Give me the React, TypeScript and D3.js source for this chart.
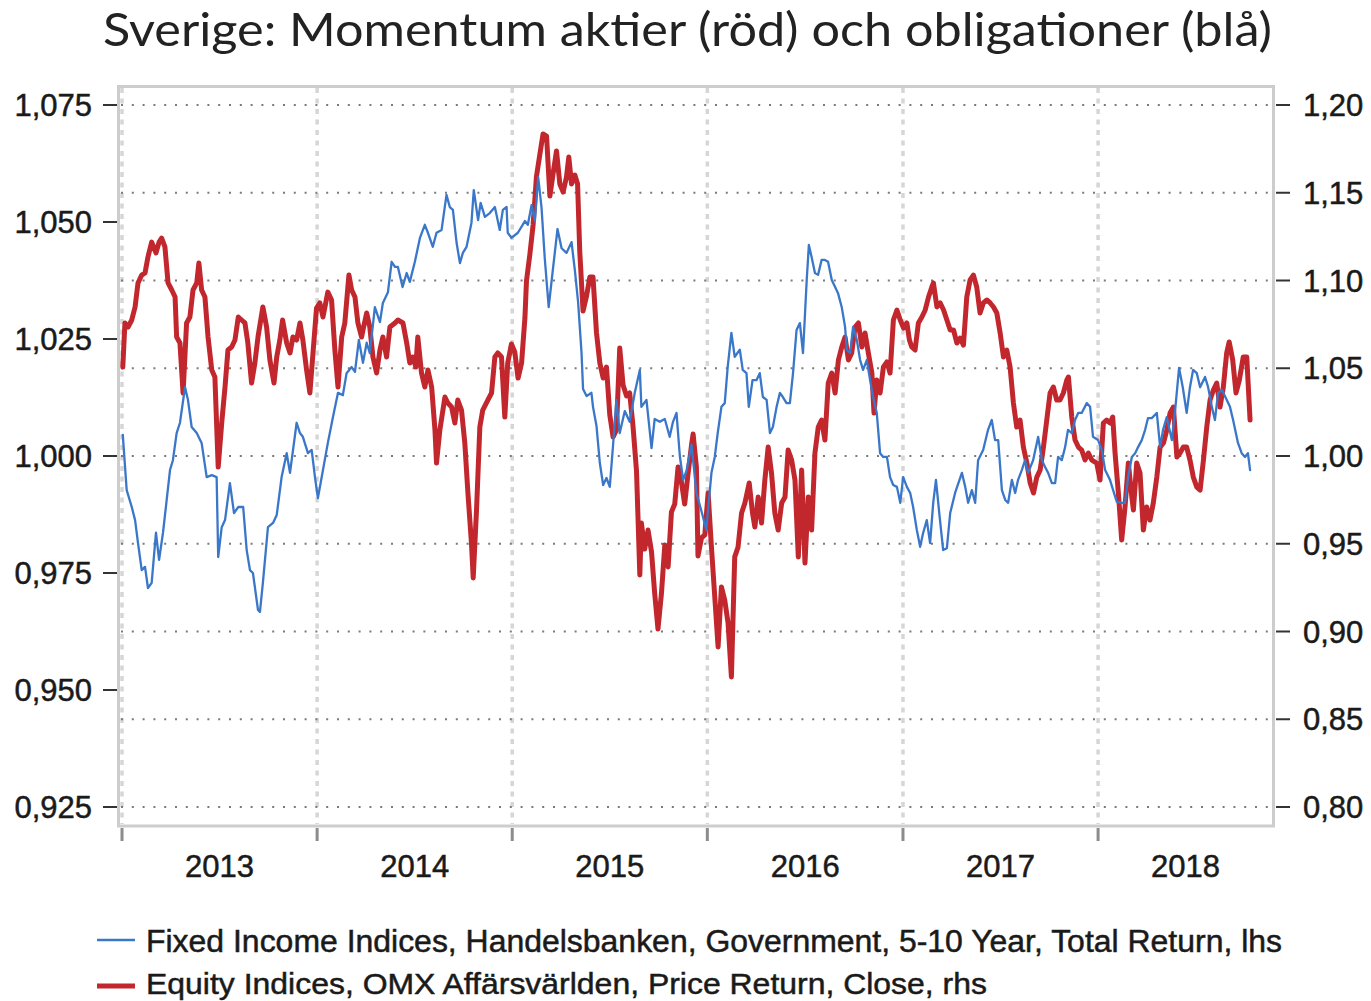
import React from "react";
import * as d3 from "d3";

const TITLE = "Sverige: Momentum aktier (röd) och obligationer (blå)";
const LEGEND_BLUE = "Fixed Income Indices, Handelsbanken, Government, 5-10 Year, Total Return, lhs";
const LEGEND_RED = "Equity Indices, OMX Affärsvärlden, Price Return, Close, rhs";

const leftTicks = [0.925, 0.95, 0.975, 1.0, 1.025, 1.05, 1.075];
const rightTicks = [0.8, 0.85, 0.9, 0.95, 1.0, 1.05, 1.1, 1.15, 1.2];
const yearTicks = [2013, 2014, 2015, 2016, 2017, 2018];

// [decimal year, value] — Handelsbanken government bond momentum (left axis)
const blueSeries: [number, number][] = [
[2013.004,1.0045],[2013.024,0.9927],[2013.050,0.9891],[2013.067,0.9863],[2013.082,0.9814],[2013.101,0.9756],[2013.118,0.9763],[2013.133,0.9718],[2013.152,0.9729],[2013.174,0.9836],[2013.190,0.9778],[2013.210,0.9836],[2013.229,0.9906],[2013.246,0.9970],[2013.261,0.9991],[2013.280,1.0049],[2013.297,1.0071],[2013.323,1.0147],[2013.338,1.0120],[2013.357,1.0062],[2013.383,1.0049],[2013.408,1.0028],[2013.434,0.9955],[2013.460,0.9959],[2013.485,0.9955],[2013.493,0.9784],[2013.511,0.9848],[2013.528,0.9863],[2013.553,0.9942],[2013.574,0.9878],[2013.596,0.9891],[2013.621,0.9891],[2013.639,0.9799],[2013.656,0.9756],[2013.671,0.9750],[2013.697,0.9671],[2013.707,0.9667],[2013.722,0.9729],[2013.748,0.9848],[2013.774,0.9857],[2013.793,0.9874],[2013.818,0.9955],[2013.844,1.0006],[2013.861,0.9964],[2013.895,1.0071],[2013.912,1.0049],[2013.927,1.0041],[2013.953,1.0006],[2013.972,1.0013],
[2013.989,0.9955],[2014.004,0.9910],[2014.030,0.9970],[2014.055,1.0028],[2014.081,1.0083],[2014.107,1.0135],[2014.132,1.0130],[2014.151,1.0177],[2014.177,1.0190],[2014.194,1.0180],[2014.214,1.0248],[2014.235,1.0199],[2014.254,1.0242],[2014.270,1.0220],[2014.296,1.0318],[2014.322,1.0286],[2014.337,1.0327],[2014.363,1.0350],[2014.382,1.0415],[2014.399,1.0404],[2014.414,1.0404],[2014.438,1.0361],[2014.459,1.0391],[2014.475,1.0372],[2014.501,1.0415],[2014.527,1.0466],[2014.552,1.0494],[2014.568,1.0477],[2014.593,1.0447],[2014.612,1.0477],[2014.638,1.0483],[2014.663,1.0558],[2014.680,1.0532],[2014.696,1.0526],[2014.715,1.0455],[2014.732,1.0412],[2014.747,1.0434],[2014.766,1.0447],[2014.791,1.0498],[2014.803,1.0568],[2014.825,1.0504],[2014.838,1.0541],[2014.860,1.0511],[2014.885,1.0519],[2014.911,1.0532],[2014.936,1.0483],[2014.952,1.0526],[2014.971,1.0532],
[2014.977,1.0477],[2014.996,1.0466],[2015.029,1.0477],[2015.065,1.0502],[2015.080,1.0494],[2015.099,1.0536],[2015.116,1.0502],[2015.133,1.0596],[2015.150,1.0532],[2015.167,1.0421],[2015.187,1.0318],[2015.208,1.0397],[2015.232,1.0485],[2015.253,1.0444],[2015.278,1.0434],[2015.304,1.0457],[2015.321,1.0397],[2015.338,1.0327],[2015.355,1.0222],[2015.363,1.0143],[2015.381,1.0128],[2015.406,1.0135],[2015.414,1.0105],[2015.432,1.0064],[2015.449,0.9985],[2015.466,0.9938],[2015.483,0.9953],[2015.500,0.9934],[2015.517,1.0024],[2015.534,1.0120],[2015.551,1.0049],[2015.577,1.0096],[2015.602,1.0073],[2015.628,1.0135],[2015.654,1.0184],[2015.662,1.0105],[2015.688,1.0120],[2015.714,1.0017],[2015.730,1.0079],[2015.756,1.0073],[2015.782,1.0079],[2015.807,1.0041],[2015.824,1.0073],[2015.842,1.0092],[2015.859,1.0000],[2015.876,0.9949],[2015.893,0.9968],[2015.919,1.0024],[2015.944,0.9921],[2015.970,0.9882],
[2015.995,0.9842],[2016.002,0.9878],[2016.021,0.9964],[2016.038,0.9998],[2016.053,1.0049],[2016.072,1.0105],[2016.089,1.0113],[2016.104,1.0190],[2016.123,1.0263],[2016.140,1.0212],[2016.166,1.0227],[2016.181,1.0184],[2016.200,1.0177],[2016.212,1.0105],[2016.231,1.0162],[2016.251,1.0162],[2016.268,1.0177],[2016.284,1.0126],[2016.303,1.0120],[2016.320,1.0049],[2016.335,1.0062],[2016.354,1.0105],[2016.371,1.0135],[2016.386,1.0126],[2016.405,1.0113],[2016.422,1.0113],[2016.438,1.0177],[2016.456,1.0269],[2016.473,1.0284],[2016.489,1.0220],[2016.508,1.0376],[2016.519,1.0451],[2016.533,1.0425],[2016.550,1.0391],[2016.566,1.0387],[2016.584,1.0419],[2016.601,1.0419],[2016.617,1.0415],[2016.636,1.0376],[2016.653,1.0361],[2016.668,1.0348],[2016.687,1.0318],[2016.704,1.0276],[2016.713,1.0227],[2016.730,1.0220],[2016.745,1.0276],[2016.764,1.0248],[2016.781,1.0205],[2016.796,1.0184],[2016.815,1.0205],[2016.832,1.0162],[2016.847,1.0126],[2016.866,1.0092],[2016.883,1.0006],[2016.899,0.9998],[2016.918,0.9998],[2016.934,0.9955],[2016.950,0.9938],[2016.969,0.9934],[2016.986,0.9900],[2017.001,0.9955],[2017.020,0.9934],
[2017.037,0.9921],[2017.052,0.9891],[2017.071,0.9842],[2017.088,0.9806],[2017.103,0.9835],[2017.122,0.9863],[2017.139,0.9814],[2017.155,0.9900],[2017.169,0.9949],[2017.186,0.9878],[2017.206,0.9799],[2017.225,0.9803],[2017.242,0.9878],[2017.267,0.9921],[2017.302,0.9964],[2017.319,0.9934],[2017.334,0.9900],[2017.353,0.9927],[2017.370,0.9900],[2017.385,0.9991],[2017.411,1.0013],[2017.436,1.0056],[2017.455,1.0077],[2017.472,1.0034],[2017.488,1.0034],[2017.507,0.9927],[2017.524,0.9906],[2017.539,0.9900],[2017.558,0.9949],[2017.575,0.9921],[2017.590,0.9949],[2017.609,0.9970],[2017.626,0.9991],[2017.641,0.9964],[2017.667,0.9991],[2017.693,1.0041],[2017.712,0.9991],[2017.729,0.9976],[2017.744,0.9964],[2017.763,0.9942],[2017.780,0.9942],[2017.795,0.9998],[2017.814,0.9991],[2017.831,1.0019],[2017.846,1.0056],[2017.865,1.0049],[2017.882,1.0077],[2017.898,1.0092],[2017.916,1.0092],[2017.942,1.0113],[2017.959,1.0105],
[2017.974,1.0041],[2018.000,1.0034],[2018.019,1.0013],[2018.036,0.9970],[2018.061,0.9949],[2018.077,0.9927],[2018.096,0.9902],[2018.121,0.9900],[2018.138,0.9900],[2018.154,0.9955],[2018.173,0.9998],[2018.190,1.0006],[2018.205,1.0019],[2018.224,1.0034],[2018.241,1.0056],[2018.256,1.0081],[2018.275,1.0081],[2018.301,1.0092],[2018.318,1.0019],[2018.333,1.0056],[2018.352,1.0083],[2018.378,1.0034],[2018.395,1.0098],[2018.415,1.0188],[2018.434,1.0147],[2018.454,1.0092],[2018.471,1.0147],[2018.487,1.0184],[2018.506,1.0177],[2018.523,1.0147],[2018.548,1.0169],[2018.564,1.0147],[2018.583,1.0105],[2018.599,1.0077],[2018.615,1.0135],[2018.635,1.0141],[2018.659,1.0120],[2018.676,1.0105],[2018.692,1.0077],[2018.717,1.0028],[2018.736,1.0006],[2018.753,0.9998],[2018.768,1.0006],[2018.779,0.9970]
];

// [decimal year, value] — OMX Affärsvärlden momentum (right axis)
const redSeries: [number, number][] = [
[2013.004,1.0507],[2013.015,1.0758],[2013.031,1.0735],[2013.050,1.0775],[2013.067,1.0849],[2013.082,1.0986],[2013.101,1.1031],[2013.118,1.1043],[2013.133,1.1134],[2013.152,1.1219],[2013.174,1.1157],[2013.190,1.1219],[2013.203,1.1242],[2013.220,1.1191],[2013.236,1.0986],[2013.255,1.0946],[2013.272,1.0906],[2013.280,1.0678],[2013.297,1.0644],[2013.313,1.0359],[2013.331,1.0758],[2013.348,1.0792],[2013.364,1.0946],[2013.383,1.0986],[2013.394,1.1100],[2013.408,1.0946],[2013.425,1.0906],[2013.441,1.0678],[2013.460,1.0490],[2013.476,1.0450],[2013.493,0.9937],[2013.511,1.0188],[2013.528,1.0393],[2013.543,1.0604],[2013.562,1.0621],[2013.579,1.0661],[2013.596,1.0792],[2013.613,1.0775],[2013.630,1.0758],[2013.645,1.0644],[2013.664,1.0416],[2013.681,1.0530],[2013.697,1.0678],[2013.722,1.0849],[2013.741,1.0735],[2013.758,1.0547],[2013.779,1.0416],[2013.793,1.0564],[2013.809,1.0661],[2013.823,1.0775],[2013.844,1.0644],[2013.861,1.0587],[2013.876,1.0678],[2013.895,1.0661],[2013.912,1.0758],[2013.927,1.0661],[2013.946,1.0490],[2013.963,1.0359],[2013.978,1.0575],[2013.997,1.0843],
[2014.014,1.0872],[2014.030,1.0792],[2014.055,1.0934],[2014.074,1.0889],[2014.091,1.0604],[2014.107,1.0393],[2014.126,1.0678],[2014.142,1.0758],[2014.163,1.1031],[2014.177,1.0946],[2014.194,1.0906],[2014.209,1.0758],[2014.228,1.0678],[2014.235,1.0718],[2014.254,1.0815],[2014.270,1.0735],[2014.286,1.0564],[2014.305,1.0473],[2014.322,1.0604],[2014.337,1.0678],[2014.356,1.0564],[2014.373,1.0735],[2014.399,1.0758],[2014.414,1.0775],[2014.440,1.0758],[2014.459,1.0644],[2014.475,1.0530],[2014.491,1.0564],[2014.506,1.0507],[2014.516,1.0678],[2014.535,1.0473],[2014.552,1.0393],[2014.568,1.0490],[2014.587,1.0393],[2014.604,1.0148],[2014.612,0.9960],[2014.629,1.0148],[2014.655,1.0336],[2014.670,1.0302],[2014.689,1.0279],[2014.706,1.0188],[2014.721,1.0319],[2014.740,1.0262],[2014.757,1.0074],[2014.773,0.9789],[2014.791,0.9504],[2014.800,0.9305],[2014.817,0.9692],[2014.834,1.0165],[2014.849,1.0262],[2014.875,1.0319],[2014.894,1.0359],[2014.911,1.0564],[2014.926,1.0587],[2014.945,1.0564],[2014.962,1.0222],[2014.977,1.0530],[2014.996,1.0638],
[2015.013,1.0593],[2015.030,1.0444],[2015.048,1.0530],[2015.065,1.0786],[2015.073,1.0997],[2015.090,1.1145],[2015.107,1.1316],[2015.124,1.1590],[2015.141,1.1715],[2015.158,1.1835],[2015.176,1.1823],[2015.193,1.1481],[2015.210,1.1613],[2015.227,1.1738],[2015.244,1.1550],[2015.261,1.1504],[2015.278,1.1590],[2015.290,1.1704],[2015.304,1.1550],[2015.321,1.1601],[2015.335,1.1550],[2015.346,1.1168],[2015.363,1.0826],[2015.381,1.0912],[2015.398,1.1020],[2015.414,1.1020],[2015.432,1.0701],[2015.449,1.0530],[2015.466,1.0444],[2015.483,1.0507],[2015.500,1.0234],[2015.517,1.0108],[2015.534,1.0148],[2015.551,1.0615],[2015.568,1.0405],[2015.586,1.0342],[2015.602,1.0359],[2015.619,1.0171],[2015.637,0.9915],[2015.654,0.9322],[2015.662,0.9618],[2015.679,0.9470],[2015.696,0.9578],[2015.714,0.9453],[2015.730,0.9219],[2015.747,0.9014],[2015.765,0.9219],[2015.782,0.9493],[2015.799,0.9368],[2015.816,0.9681],[2015.833,0.9726],[2015.850,0.9937],[2015.867,0.9852],[2015.884,0.9726],[2015.901,0.9897],[2015.919,1.0063],[2015.927,1.0125],[2015.944,0.9937],[2015.952,0.9430],[2015.970,0.9533],[2015.987,0.9550],
[2016.004,0.9789],[2016.021,0.9481],[2016.038,0.9197],[2016.055,0.8912],[2016.072,0.9254],[2016.089,0.9179],[2016.106,0.9048],[2016.123,0.8741],[2016.140,0.9425],[2016.157,0.9481],[2016.175,0.9675],[2016.192,0.9732],[2016.214,0.9846],[2016.231,0.9675],[2016.243,0.9595],[2016.260,0.9766],[2016.277,0.9618],[2016.294,0.9863],[2016.311,1.0051],[2016.328,0.9903],[2016.345,0.9675],[2016.362,0.9578],[2016.380,0.9732],[2016.397,0.9766],[2016.413,1.0034],[2016.431,0.9977],[2016.448,0.9863],[2016.465,0.9425],[2016.482,0.9920],[2016.499,0.9390],[2016.516,0.9766],[2016.533,0.9578],[2016.550,1.0017],[2016.567,1.0165],[2016.584,1.0205],[2016.601,1.0091],[2016.618,1.0416],[2016.636,1.0473],[2016.653,1.0359],[2016.670,1.0547],[2016.687,1.0621],[2016.704,1.0678],[2016.721,1.0547],[2016.738,1.0587],[2016.755,1.0735],[2016.772,1.0758],[2016.790,1.0621],[2016.806,1.0701],[2016.823,1.0587],[2016.841,1.0473],[2016.852,1.0245],[2016.866,1.0433],[2016.883,1.0359],[2016.900,1.0507],[2016.918,1.0536],[2016.934,1.0473],[2016.951,1.0775],[2016.969,1.0832],[2016.986,1.0775],
[2017.003,1.0729],[2017.020,1.0758],[2017.033,1.0661],[2017.045,1.0621],[2017.062,1.0604],[2017.079,1.0758],[2017.097,1.0792],[2017.114,1.0832],[2017.131,1.0906],[2017.148,1.0963],[2017.156,1.0986],[2017.174,1.0849],[2017.191,1.0872],[2017.208,1.0832],[2017.225,1.0775],[2017.242,1.0718],[2017.259,1.0718],[2017.276,1.0644],[2017.293,1.0672],[2017.310,1.0632],[2017.327,1.0906],[2017.344,1.1003],[2017.361,1.1031],[2017.378,1.0963],[2017.395,1.0815],[2017.412,1.0872],[2017.430,1.0889],[2017.447,1.0872],[2017.464,1.0849],[2017.481,1.0815],[2017.498,1.0701],[2017.515,1.0564],[2017.532,1.0604],[2017.549,1.0507],[2017.566,1.0302],[2017.583,1.0165],[2017.600,1.0205],[2017.617,1.0051],[2017.635,0.9960],[2017.652,0.9846],[2017.669,0.9789],[2017.686,0.9880],[2017.703,0.9920],[2017.720,1.0051],[2017.737,1.0205],[2017.754,1.0359],[2017.771,1.0393],[2017.788,1.0319],[2017.805,1.0319],[2017.822,1.0359],[2017.840,1.0433],[2017.848,1.0450],[2017.865,1.0222],[2017.882,1.0091],[2017.899,1.0051],[2017.916,1.0034],[2017.933,0.9977],[2017.950,1.0017],[2017.968,0.9977],[2017.993,0.9960],
[2018.010,0.9863],[2018.027,1.0188],[2018.044,1.0205],[2018.061,1.0188],[2018.075,1.0222],[2018.087,1.0017],[2018.104,0.9789],[2018.121,0.9521],[2018.138,0.9709],[2018.155,0.9960],[2018.173,0.9766],[2018.181,0.9692],[2018.198,0.9960],[2018.215,0.9903],[2018.232,0.9578],[2018.249,0.9709],[2018.266,0.9635],[2018.283,0.9732],[2018.301,0.9880],[2018.318,1.0051],[2018.335,1.0074],[2018.352,1.0148],[2018.369,1.0245],[2018.386,1.0279],[2018.404,0.9994],[2018.420,1.0017],[2018.437,1.0051],[2018.454,1.0051],[2018.471,0.9977],[2018.488,0.9880],[2018.506,0.9823],[2018.523,0.9806],[2018.540,0.9977],[2018.557,1.0165],[2018.574,1.0319],[2018.591,1.0376],[2018.608,1.0416],[2018.625,1.0279],[2018.642,1.0393],[2018.659,1.0587],[2018.672,1.0650],[2018.690,1.0547],[2018.707,1.0359],[2018.724,1.0433],[2018.744,1.0564],[2018.762,1.0564],[2018.779,1.0205]
];

const decToDate = (t: number) => {
  const y = Math.floor(t);
  const s = Date.UTC(y, 0, 1);
  const e = Date.UTC(y + 1, 0, 1);
  return new Date(s + (t - y) * (e - s));
};

const W = 1371;
const H = 1001;
const PL = 118;
const PR = 1273;
const PT = 105;
const PB = 807;

export default function App() {
  const x = d3.scaleUtc().domain([decToDate(2012.9795), decToDate(2018.8965)]).range([PL, PR]);
  const yL = d3.scaleLinear().domain([0.925, 1.075]).range([PB, PT]);
  const yR = d3.scaleLinear().domain([0.8, 1.2]).range([PB, PT]);

  const blueLine = d3.line<[number, number]>().x(d => x(decToDate(d[0]))).y(d => yL(d[1]));
  const redLine = d3.line<[number, number]>().x(d => x(decToDate(d[0]))).y(d => yR(d[1]));

  const fmtL = (v: number) => v.toFixed(3).replace(".", ",");
  const fmtR = (v: number) => v.toFixed(2).replace(".", ",");

  const axisFont = "'Liberation Sans', Arial, sans-serif";
  const txt = { fontFamily: axisFont, fontSize: 31, fill: "#1a1a1a", stroke: "#1a1a1a", strokeWidth: 0.5 };

  return (
    <svg width={W} height={H} style={{ position: "absolute", left: 0, top: 0, background: "#fff" }}>
      <rect x={0} y={0} width={W} height={H} fill="#fff" />
      <text x={103} y={46} fontFamily="Lato, 'Open Sans', sans-serif" fontSize={46} fill="#222"
        textLength={1169} lengthAdjust="spacingAndGlyphs">{TITLE}</text>

      {/* vertical gridlines */}
      {yearTicks.map(yr => (
        <line key={"vg" + yr} x1={x(decToDate(yr))} x2={x(decToDate(yr))} y1={88} y2={824}
          stroke="#d6d6d6" strokeWidth={3.5} strokeDasharray="5,5.5" />
      ))}
      {/* horizontal gridlines */}
      {rightTicks.map(v => (
        <line key={"hg" + v} x1={121} x2={1271} y1={yR(v)} y2={yR(v)}
          stroke="#7a7a7a" strokeWidth={2} strokeDasharray="2,8.8" />
      ))}

      {/* frame */}
      <rect x={118.5} y={86.5} width={1155} height={739.5} fill="none" stroke="#cdcdcd" strokeWidth={3} />

      {/* data */}
      <path d={redLine(redSeries) || ""} fill="none" stroke="#c1272d" strokeWidth={5} strokeLinejoin="round" strokeLinecap="round" />
      <path d={blueLine(blueSeries) || ""} fill="none" stroke="#3a77c9" strokeWidth={2.3} strokeLinejoin="round" strokeLinecap="round" />

      {/* left axis */}
      {leftTicks.map(v => (
        <g key={"lt" + v}>
          <line x1={103} x2={117} y1={yL(v)} y2={yL(v)} stroke="#333" strokeWidth={2} />
          <text x={92} y={yL(v) + 11} textAnchor="end" {...txt}>{fmtL(v)}</text>
        </g>
      ))}
      {/* right axis */}
      {rightTicks.map(v => (
        <g key={"rt" + v}>
          <line x1={1276} x2={1290} y1={yR(v)} y2={yR(v)} stroke="#333" strokeWidth={2} />
          <text x={1303} y={yR(v) + 11} textAnchor="start" {...txt}>{fmtR(v)}</text>
        </g>
      ))}
      {/* x axis */}
      {yearTicks.map(yr => {
        const x0 = x(decToDate(yr));
        const x1 = Math.min(x(decToDate(yr + 1)), PR);
        return (
          <g key={"xt" + yr}>
            <line x1={x0} x2={x0} y1={828} y2={841} stroke="#8c8c8c" strokeWidth={3} />
            <text x={(x0 + x1) / 2} y={877} textAnchor="middle" {...txt}>{yr}</text>
          </g>
        );
      })}

      {/* legend */}
      <line x1={97} x2={135} y1={940} y2={940} stroke="#3a77c9" strokeWidth={2.5} />
      <text x={146} y={952} {...txt} fontSize={31} textLength={1136} lengthAdjust="spacingAndGlyphs">{LEGEND_BLUE}</text>
      <line x1={97} x2={135} y1={986} y2={986} stroke="#c1272d" strokeWidth={5} />
      <text x={146} y={994} {...txt} fontSize={30} textLength={841} lengthAdjust="spacingAndGlyphs">{LEGEND_RED}</text>
    </svg>
  );
}
